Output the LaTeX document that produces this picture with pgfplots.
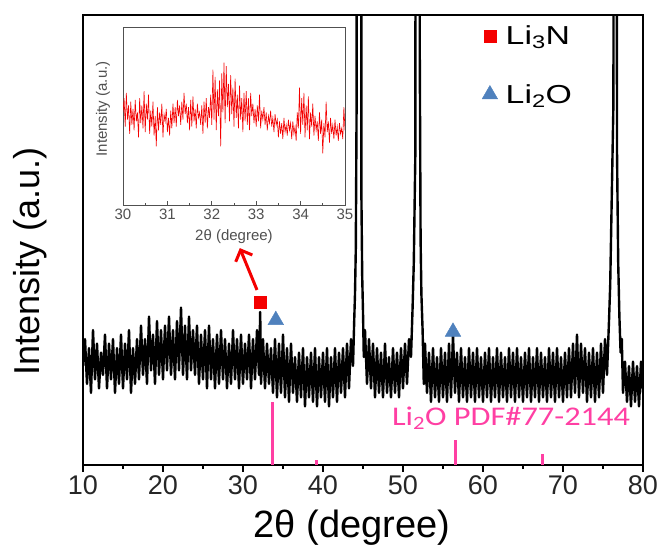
\documentclass[border=0pt]{standalone}
\usepackage{fontspec}
\setmainfont{Liberation Sans}
\newfontfamily\calibri[FakeStretch=1.2]{Carlito}
\newfontfamily\legendfont[FakeStretch=1.3]{Liberation Sans}
\usepackage{pgfplots}
\pgfplotsset{compat=1.18}
\usetikzlibrary{arrows.meta,calc}

\definecolor{refpink}{HTML}{FF3FA3}
\definecolor{refblue}{HTML}{4F81BD}
\definecolor{refred}{HTML}{F40000}
\definecolor{insetgray}{HTML}{505050}

\begin{document}
\begin{tikzpicture}
% page frame, 1px of the reference = 1pt
\path (-83pt,-90pt) rectangle (580pt,465pt);

\begin{axis}[
    name=main, at={(0,0)}, anchor=south west,
    scale only axis, width=560pt, height=450pt,
    xmin=10, xmax=80, ymin=0, ymax=100,
    xtick={10,20,...,80}, minor x tick num=1, ytick=\empty,
    tick align=outside, xtick pos=left,
    major tick length=7pt, minor tick length=4pt,
    tick style={black, line width=2pt},
    axis line style={line width=2.5pt},
    /pgf/number format/assume math mode=true,
    ticklabel style={font=\fontsize{27}{30}\selectfont, text=black!85},
    xlabel={2θ (degree)},
    xlabel style={font=\fontsize{38}{42}\selectfont, at={(axis description cs:0.48,-0.14)}, anchor=center},
    ylabel={Intensity (a.u.)},
    ylabel style={font=\fontsize{36}{40}\selectfont, at={(axis description cs:-0.095,0.453)}, anchor=center},
    legend style={draw=none, fill=none, at={(axis description cs:0.707,0.985)}, anchor=north west,
      font=\legendfont\fontsize{26}{30}\selectfont, row sep=34pt,
      /tikz/every odd column/.append style={column sep=6pt}},
    legend cell align=left,
  ]

  % measured pattern
  \addplot[black, line width=2.4pt, line join=round, forget plot] coordinates {
    (10.00,22)(10.25,28)(10.50,18)(10.75,26)(11.00,16)(11.25,30)(11.50,19)(11.75,27)
    (12.00,17)(12.25,25)(12.50,20)(12.75,29)(13.00,17)(13.25,27)(13.50,19)(13.75,28)
    (14.00,16)(14.25,26)(14.50,18)(14.75,29)(15.00,17)(15.25,27)(15.50,19)(15.75,30)
    (16.00,16)(16.25,26)(16.50,18)(16.75,28)(17.00,19)(17.25,31)(17.50,20)(17.75,28)
    (18.00,18)(18.25,33)(18.50,21)(18.75,29)(19.00,18)(19.25,32)(19.50,20)(19.75,30)
    (20.00,19)(20.25,31)(20.50,21)(20.75,33)(21.00,20)(21.25,30)(21.50,19)(21.75,32)
    (22.00,21)(22.25,35)(22.50,20)(22.75,31)(23.00,19)(23.25,33)(23.50,21)(23.75,30)
    (24.00,20)(24.25,31)(24.50,18)(24.75,29)(25.00,19)(25.25,30)(25.50,17)(25.75,31)
    (26.00,19)(26.25,28)(26.50,17)(26.75,29)(27.00,18)(27.25,30)(27.50,19)(27.75,28)
    (28.00,17)(28.25,27)(28.50,18)(28.75,30)(29.00,19)(29.25,28)(29.50,17)(29.75,29)
    (30.00,18)(30.25,27)(30.50,19)(30.75,29)(31.00,17)(31.25,28)(31.50,19)(31.75,30)
    (32.00,20)(32.15,34)(32.25,18)(32.50,28)(32.75,17)(33.00,27)(33.25,18)(33.50,26)
    (33.75,16)(34.00,28)(34.25,15)(34.50,27)(34.75,16)(35.00,29)(35.25,15)(35.50,26)
    (35.75,14)(36.00,27)(36.25,16)(36.50,24)(36.75,14)(37.00,25)(37.25,15)(37.50,26)
    (37.75,13)(38.00,24)(38.25,15)(38.50,25)(38.75,14)(39.00,26)(39.25,13)(39.50,24)
    (39.75,15)(40.00,25)(40.25,14)(40.50,26)(40.75,13)(41.00,24)(41.25,15)(41.50,26)
    (41.75,14)(42.00,25)(42.25,16)(42.50,26)(42.75,15)(43.00,27)(43.25,17)(43.50,28)
    (43.75,22)(43.90,32)(44.00,38)(44.10,48)(44.20,80)(44.25,300)(44.75,300)(44.80,60)
    (44.90,42)(45.00,34)(45.10,24)(45.25,30)(45.50,18)(45.75,28)(46.00,17)(46.25,27)
    (46.50,15)(46.75,26)(47.00,16)(47.25,25)(47.50,15)(47.75,27)(48.00,16)(48.25,24)
    (48.50,15)(48.75,26)(49.00,16)(49.25,25)(49.50,15)(49.75,26)(50.00,17)(50.25,27)
    (50.50,18)(50.75,28)(51.00,24)(51.20,35)(51.35,45)(51.55,70)(51.60,300)(52.00,300)
    (52.10,90)(52.20,50)(52.30,38)(52.45,30)(52.60,18)(52.75,27)(53.00,16)(53.25,25)
    (53.50,14)(53.75,26)(54.00,15)(54.25,24)(54.50,14)(54.75,26)(55.00,15)(55.25,25)
    (55.50,14)(55.75,27)(56.00,15)(56.25,29)(56.50,16)(56.75,25)(57.00,14)(57.25,26)
    (57.50,15)(57.75,24)(58.00,14)(58.25,26)(58.50,15)(58.75,25)(59.00,14)(59.25,26)
    (59.50,15)(59.75,24)(60.00,14)(60.25,25)(60.50,15)(60.75,26)(61.00,14)(61.25,24)
    (61.50,15)(61.75,26)(62.00,14)(62.25,25)(62.50,15)(62.75,24)(63.00,14)(63.25,26)
    (63.50,15)(63.75,25)(64.00,14)(64.25,26)(64.50,15)(64.75,24)(65.00,14)(65.25,25)
    (65.50,15)(65.75,26)(66.00,14)(66.25,24)(66.50,15)(66.75,26)(67.00,14)(67.25,25)
    (67.50,15)(67.75,24)(68.00,14)(68.25,26)(68.50,15)(68.75,25)(69.00,14)(69.25,26)
    (69.50,15)(69.75,24)(70.00,14)(70.25,25)(70.50,15)(70.75,26)(71.00,15)(71.25,27)
    (71.50,16)(71.75,29)(72.00,15)(72.25,27)(72.50,16)(72.75,26)(73.00,14)(73.25,25)
    (73.50,15)(73.75,26)(74.00,14)(74.25,25)(74.50,15)(74.75,27)(75.00,16)(75.25,28)
    (75.50,20)(75.75,32)(75.90,40)(76.05,55)(76.30,80)(76.45,300)(76.65,300)(76.75,70)
    (76.90,45)(77.05,33)(77.20,25)(77.35,28)(77.50,16)(77.75,23)(78.00,14)(78.25,22)
    (78.50,13)(78.75,23)(79.00,14)(79.25,22)(79.50,13)(79.75,23)(80.00,16)
  };

  % Li2O reference pattern
  \addplot[ycomb, refpink, line width=3pt, forget plot] coordinates {
    (33.7,14.0)(39.2,1.2)(56.6,5.6)(67.4,2.4)
  };

  \addplot[only marks, mark=square*, mark size=6pt, refred] coordinates {(32.1,36.2)};
  \addlegendentry{Li\textsubscript{3}N}
  \addplot[only marks, mark=triangle*, mark size=9pt, refblue] coordinates {(34.1,32.2) (56.25,29.6)};
  \addlegendentry{Li\textsubscript{2}O}

  \draw[refred, line width=3pt, -{Straight Barb[length=9pt,width=18pt]}]
    (axis cs:31.75,38.9) -- (axis cs:29.6,48.2);
  \node[refpink, font=\calibri\fontsize{27}{30}\selectfont, anchor=west, inner sep=0pt]
    at (axis cs:48.6,10.4) {Li\textsubscript{2}O PDF\#77-2144};
\end{axis}

% inset: 30-35 degree region
\begin{axis}[
    at={($(main.south west)+(40pt,260pt)$)}, anchor=south west,
    scale only axis, width=222pt, height=178pt,
    xmin=30, xmax=35, ymin=0, ymax=100,
    xtick={30,...,35}, minor x tick num=1, ytick=\empty,
    tick align=inside, xtick pos=left,
    major tick length=4pt, minor tick length=2.5pt,
    tick style={insetgray, line width=0.8pt},
    axis line style={insetgray, line width=0.9pt},
    axis background/.style={fill=white},
    /pgf/number format/assume math mode=true,
    ticklabel style={font=\fontsize{15}{17}\selectfont, text=insetgray},
    xlabel={2θ (degree)}, ylabel={Intensity (a.u.)},
    label style={font=\fontsize{15}{17}\selectfont, text=insetgray},
    xlabel style={at={(axis description cs:0.5,-0.18)}, anchor=center},
    ylabel style={at={(axis description cs:-0.09,0.54)}, anchor=center},
  ]
  \addplot[refred, line width=0.6pt] coordinates {
    (30.000,52)(30.025,60)(30.050,44)(30.075,63)(30.100,48)(30.125,56)(30.150,40)(30.175,58)
    (30.200,45)(30.225,54)(30.250,42)(30.275,59)(30.300,47)(30.325,52)(30.350,38)(30.375,60)
    (30.400,46)(30.425,56)(30.450,43)(30.475,64)(30.500,41)(30.525,57)(30.550,48)(30.575,62)
    (30.600,40)(30.625,53)(30.650,44)(30.675,58)(30.700,39)(30.725,50)(30.750,33)(30.775,55)
    (30.800,42)(30.825,52)(30.850,45)(30.875,57)(30.900,38)(30.925,51)(30.950,47)(30.975,54)
    (31.000,41)(31.025,49)(31.050,39)(31.075,53)(31.100,43)(31.125,57)(31.150,46)(31.175,55)
    (31.200,44)(31.225,59)(31.250,50)(31.275,56)(31.300,45)(31.325,58)(31.350,48)(31.375,63)
    (31.400,51)(31.425,57)(31.450,46)(31.475,55)(31.500,42)(31.525,59)(31.550,44)(31.575,61)
    (31.600,47)(31.625,54)(31.650,43)(31.675,57)(31.700,49)(31.725,52)(31.750,45)(31.775,56)
    (31.800,40)(31.825,58)(31.850,46)(31.875,60)(31.900,43)(31.925,55)(31.950,49)(31.975,62)
    (32.000,45)(32.025,76)(32.050,48)(32.075,72)(32.100,42)(32.125,65)(32.150,50)(32.175,70)
    (32.200,33)(32.225,74)(32.250,52)(32.275,80)(32.300,46)(32.325,78)(32.350,55)(32.375,68)
    (32.400,47)(32.425,73)(32.450,51)(32.475,66)(32.500,44)(32.525,71)(32.550,49)(32.575,62)
    (32.600,43)(32.625,67)(32.650,48)(32.675,60)(32.700,41)(32.725,63)(32.750,47)(32.775,64)
    (32.800,45)(32.825,60)(32.850,42)(32.875,63)(32.900,50)(32.925,57)(32.950,46)(32.975,54)
    (33.000,44)(33.025,56)(33.050,47)(33.075,62)(33.100,43)(33.125,53)(33.150,48)(33.175,55)
    (33.200,45)(33.225,52)(33.250,42)(33.275,50)(33.300,46)(33.325,53)(33.350,44)(33.375,49)
    (33.400,41)(33.425,51)(33.450,45)(33.475,48)(33.500,38)(33.525,47)(33.550,40)(33.575,46)
    (33.600,37)(33.625,49)(33.650,41)(33.675,45)(33.700,39)(33.725,48)(33.750,42)(33.775,46)
    (33.800,37)(33.825,47)(33.850,40)(33.875,44)(33.900,36)(33.925,52)(33.950,43)(33.975,66)
    (34.000,40)(34.025,60)(34.050,45)(34.075,63)(34.100,38)(34.125,56)(34.150,42)(34.175,61)
    (34.200,37)(34.225,52)(34.250,44)(34.275,57)(34.300,39)(34.325,50)(34.350,42)(34.375,47)
    (34.400,36)(34.425,52)(34.450,40)(34.475,48)(34.500,29)(34.525,46)(34.550,38)(34.575,58)
    (34.600,41)(34.625,47)(34.650,35)(34.675,49)(34.700,40)(34.725,45)(34.750,37)(34.775,48)
    (34.800,39)(34.825,44)(34.850,36)(34.875,46)(34.900,40)(34.925,43)(34.950,37)(34.975,55)
    (35.000,42)
  };
\end{axis}
\end{tikzpicture}
\end{document}
